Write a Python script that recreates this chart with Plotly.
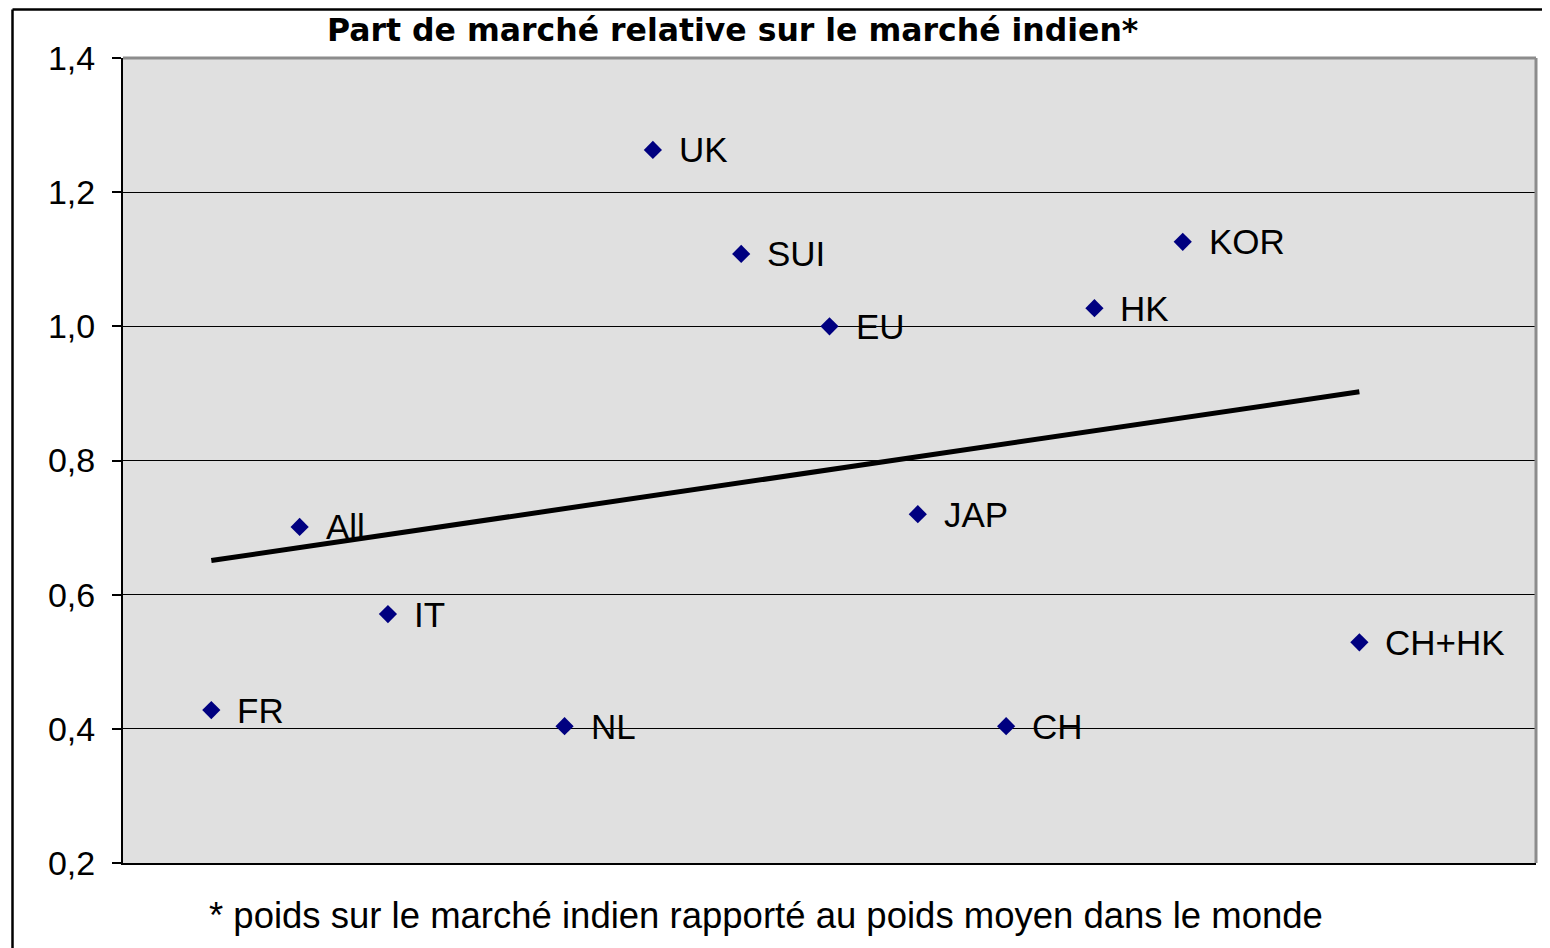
import numpy as np
import plotly.graph_objects as go

# ---- data ----
countries = ["FR", "All", "IT", "NL", "UK", "SUI", "EU", "JAP", "CH", "HK", "KOR", "CH+HK"]
positions = [1, 2, 3, 5, 6, 7, 8, 9, 10, 11, 12, 14]
rel_share = [0.428, 0.701, 0.571, 0.404, 1.263, 1.108, 1.000, 0.720, 0.404, 1.027, 1.126, 0.529]
y_ticks = [0.2, 0.4, 0.6, 0.8, 1.0, 1.2, 1.4]
y_tick_labels = ["0,2", "0,4", "0,6", "0,8", "1,0", "1,2", "1,4"]
title_text = "Part de marché relative sur le marché indien*"
footnote_text = "* poids sur le marché indien rapporté au poids moyen dans le monde"

# linear trend (least squares) over the points
slope, intercept = np.polyfit(positions, rel_share, 1)
trend_x = [min(positions), max(positions)]
trend_y = [slope * x + intercept for x in trend_x]

# page has an 8px body margin -> figure is offset by 8px
OFF = 8
W, H = 1542, 940
L, R, T, B = 115, 14, 50, 85
pw, ph = W - L - R, H - T - B


def px_x(p):
    """page pixel x -> paper x"""
    return (p - OFF - L) / pw


def px_y(p):
    """page pixel y -> paper y"""
    return (H - B - (p - OFF)) / ph


fig = go.Figure()
fig.add_trace(go.Scatter(
    x=trend_x, y=trend_y, mode="lines",
    line=dict(color="black", width=5), hoverinfo="skip", showlegend=False,
))
fig.add_trace(go.Scatter(
    x=positions, y=rel_share, mode="markers",
    marker=dict(symbol="diamond", size=14, color="#000080", line=dict(width=0)),
    showlegend=False,
))

annotations = []
for c, x, y in zip(countries, positions, rel_share):
    annotations.append(dict(
        x=x, y=y, xref="x", yref="y", text=c, showarrow=False,
        xanchor="left", yanchor="middle", xshift=24, yshift=0,
        font=dict(family="Liberation Sans, Arial", size=35, color="black"),
    ))
annotations.append(dict(
    x=px_x(732), y=px_y(30), xref="paper", yref="paper", text="<b>" + title_text + "</b>",
    showarrow=False, xanchor="center", yanchor="middle",
    font=dict(family="DejaVu Sans", size=31.5, color="black"),
))
annotations.append(dict(
    x=px_x(766), y=px_y(915), xref="paper", yref="paper", text=footnote_text,
    showarrow=False, xanchor="center", yanchor="middle",
    font=dict(family="Liberation Sans, Arial", size=36.5, color="black"),
))

shapes = [
    # grey plot frame top & right
    dict(type="line", xref="paper", yref="paper", x0=0, x1=1, y0=1, y1=1,
         line=dict(color="#8c8c8c", width=3), layer="above"),
    dict(type="line", xref="paper", yref="paper", x0=1, x1=1, y0=0, y1=1,
         line=dict(color="#8c8c8c", width=3), layer="above"),
    # outer chart border (left & top)
    dict(type="line", xref="paper", yref="paper", x0=px_x(12.5), x1=px_x(12.5),
         y0=px_y(1000), y1=px_y(9.5), line=dict(color="black", width=2.5)),
    dict(type="line", xref="paper", yref="paper", x0=px_x(12.5), x1=px_x(1600),
         y0=px_y(9.5), y1=px_y(9.5), line=dict(color="black", width=2.5)),
]

fig.update_layout(
    width=W, height=H,
    margin=dict(l=L, r=R, t=T, b=B, pad=0),
    paper_bgcolor="white", plot_bgcolor="#e0e0e0",
    annotations=annotations, shapes=shapes,
    font=dict(family="Liberation Sans, Arial", color="black"),
)
fig.update_xaxes(range=[0, 16], showgrid=False, zeroline=False, showticklabels=False,
                 ticks="", showline=True, linecolor="black", linewidth=2)
fig.update_yaxes(range=[0.2, 1.4], tickvals=y_ticks, ticktext=y_tick_labels,
                 showgrid=True, gridcolor="black", gridwidth=1.3, zeroline=False,
                 ticks="outside", ticklen=9, tickwidth=1.5, tickcolor="black",
                 showline=True, linecolor="black", linewidth=2,
                 tickfont=dict(family="Liberation Sans, Arial", size=34, color="black"),
                 ticklabelstandoff=10)

fig.write_html("out.html")
